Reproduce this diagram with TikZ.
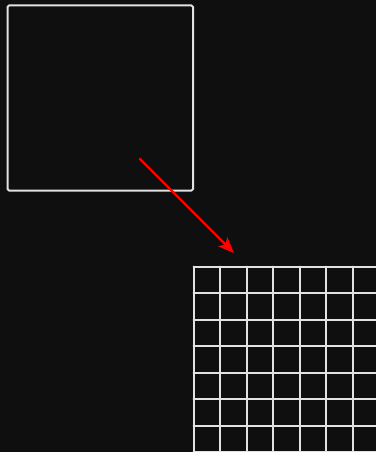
\documentclass[tikz,border=0pt]{standalone}
\usetikzlibrary{arrows.meta}
\definecolor{bgdark}{HTML}{0F0F0F}
\definecolor{linegray}{HTML}{E2E2E2}
\begin{document}
\begin{tikzpicture}[
    x=1pt, y=-1pt,
    line cap=round,
    line join=round,
    frame/.style={draw=linegray, line width=2pt, rounded corners=1.5pt},
    gridline/.style={draw=linegray, line width=2pt},
    pointer/.style={draw=red, line width=2.4pt, -{Stealth[length=16pt, width=13pt, inset=4pt]}}
]
  \fill[bgdark] (0,0) rectangle (376,452);
  \useasboundingbox (0,0) rectangle (376,452);

  % big square
  \draw[frame] (7.5,5.5) rectangle (193,190.5);

  % grid, running off the right and bottom edges
  \begin{scope}
    \clip (0,0) rectangle (376,452);
    \foreach \i in {0,...,7} {
      \draw[gridline] (193.5+26.5*\i,266.5) -- (193.5+26.5*\i,460);
      \draw[gridline] (193.5,266.5+26.5*\i) -- (385,266.5+26.5*\i);
    }
  \end{scope}

  % arrow
  \coordinate (tail) at (140,159);
  \coordinate (head) at (234,253);
  \draw[pointer] (tail) -- (head);
\end{tikzpicture}
\end{document}
